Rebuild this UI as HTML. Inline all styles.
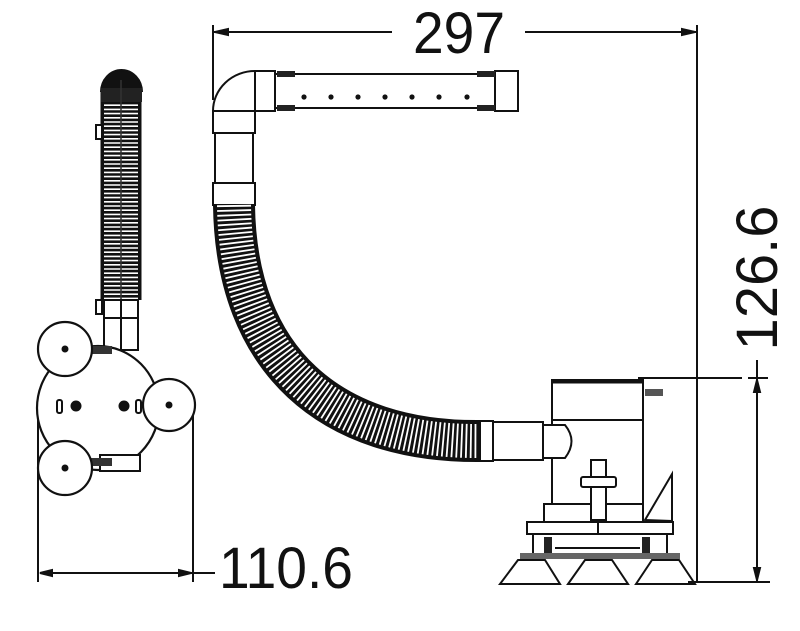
<!DOCTYPE html>
<html><head><meta charset="utf-8"><style>
html,body{margin:0;padding:0;background:#fff;}
svg{display:block}
text{font-family:"Liberation Sans",sans-serif;fill:#111}
</style></head><body>
<svg width="800" height="631" viewBox="0 0 800 631" xmlns="http://www.w3.org/2000/svg">
<g fill="none" stroke="#111" stroke-width="2">
<path d="M121,90 L121,300" stroke="#111" stroke-width="41" stroke-linecap="butt"/>
<path d="M121,75 L121,300" stroke="#fff" stroke-width="34" stroke-dasharray="1.6 2.6"/>
<path d="M101,92 A20.5,22 0 0 1 142,92" fill="#111" stroke="#111"/>
<rect x="101" y="88" width="41" height="14" fill="#222" stroke="none"/>
<line x1="121" y1="80" x2="121" y2="300" stroke="#333" stroke-width="1.5"/>
<rect x="96" y="125" width="6" height="14" fill="#fff"/>
<rect x="96" y="300" width="6" height="14" fill="#fff"/>
<rect x="104" y="300" width="34" height="50" fill="#fff"/>
<line x1="121" y1="300" x2="121" y2="350"/>
<line x1="104" y1="318" x2="138" y2="318"/>
<ellipse cx="98" cy="408" rx="61" ry="62" fill="#fff" stroke-width="2.2"/>
<rect x="100" y="455" width="40" height="16" fill="#fff"/>
<rect x="90" y="346" width="22" height="8" fill="#333" stroke="none"/>
<rect x="90" y="458" width="22" height="8" fill="#333" stroke="none"/>
<circle cx="65" cy="349" r="27" fill="#fff" stroke-width="2.2"/>
<circle cx="169" cy="405" r="26" fill="#fff" stroke-width="2.2"/>
<circle cx="65" cy="468" r="27" fill="#fff" stroke-width="2.2"/>
<circle cx="65" cy="349" r="2.5" fill="#111"/>
<circle cx="169" cy="405" r="2.5" fill="#111"/>
<circle cx="65" cy="468" r="2.5" fill="#111"/>
<rect x="57" y="400" width="5" height="13" rx="2"/>
<circle cx="76" cy="406" r="4.5" fill="#111"/>
<circle cx="124" cy="406" r="4.5" fill="#111"/>
<rect x="136" y="400" width="5" height="13" rx="2"/>
<line x1="38" y1="420" x2="38" y2="582"/>
<line x1="193" y1="415" x2="193" y2="582"/>
<line x1="40" y1="573" x2="215" y2="573"/>
<path d="M40,573 L52,570 L52,576 Z" fill="#111"/>
<path d="M191,573 L179,570 L179,576 Z" fill="#111"/>

<line x1="213" y1="25" x2="213" y2="100"/>
<line x1="213" y1="32" x2="392" y2="32"/>
<line x1="525" y1="32" x2="697" y2="32"/>
<path d="M215,32 L228,29 L228,35 Z" fill="#111"/>
<path d="M695,32 L682,29 L682,35 Z" fill="#111"/>
<path d="M213,111 A42,40 0 0 1 255,71 L275,71 L275,111 L213,111 Z" fill="#fff"/>
<line x1="255" y1="71" x2="255" y2="111"/>
<rect x="213" y="111" width="42" height="22" fill="#fff"/>
<rect x="215" y="133" width="38" height="50" fill="#fff"/>
<rect x="213" y="183" width="42" height="22" fill="#fff"/>
<rect x="275" y="74" width="220" height="34" fill="#fff"/>
<rect x="495" y="71" width="23" height="40" fill="#fff"/>
<rect x="277" y="71" width="18" height="6" fill="#222" stroke="none"/>
<rect x="277" y="105" width="18" height="6" fill="#222" stroke="none"/>
<rect x="477" y="71" width="18" height="6" fill="#222" stroke="none"/>
<rect x="477" y="105" width="18" height="6" fill="#222" stroke="none"/>
<g fill="#111" stroke="none">
<circle cx="304" cy="97" r="2.6"/><circle cx="331" cy="97" r="2.6"/><circle cx="358" cy="97" r="2.6"/>
<circle cx="385" cy="97" r="2.6"/><circle cx="412" cy="97" r="2.6"/><circle cx="439" cy="97" r="2.6"/><circle cx="467" cy="97" r="2.6"/>
</g>
<path d="M234,205 C236,360 330,443 482,441" stroke="#111" stroke-width="42"/>
<path d="M234,205 C236,360 330,443 482,441" stroke="#fff" stroke-width="34" stroke-dasharray="1.8 2.8"/>
<rect x="480" y="421" width="13" height="40" fill="#fff"/>
<rect x="493" y="422" width="50" height="38" fill="#fff"/>
<rect x="552" y="380" width="91" height="124" fill="#fff"/>
<line x1="552" y1="382" x2="643" y2="382" stroke-width="3"/>
<line x1="552" y1="420" x2="643" y2="420"/>
<rect x="645" y="389" width="18" height="7" fill="#555" stroke="none"/>
<path d="M543,425 L565,425 Q578,441 565,458 L543,458 Z" fill="#fff"/>
<rect x="544" y="504" width="99" height="18" fill="#fff"/>
<rect x="591" y="460" width="15" height="60" fill="#fff"/>
<rect x="581" y="477" width="35" height="10" rx="2" fill="#fff"/>
<path d="M645,520 L672,474 L672,521 Z" fill="#fff"/>
<rect x="527" y="522" width="146" height="12" fill="#fff"/>
<line x1="598" y1="522" x2="598" y2="534"/>
<rect x="533" y="534" width="134" height="22" fill="#fff"/>
<rect x="544" y="537" width="8" height="16" fill="#222" stroke="none"/>
<rect x="642" y="537" width="8" height="16" fill="#222" stroke="none"/>
<line x1="555" y1="548" x2="640" y2="548"/>
<rect x="520" y="553" width="160" height="6" fill="#666" stroke="none"/>
<path d="M518,560 L545,560 L560,584 L500,584 Z" fill="#fff"/>
<path d="M585,560 L612,560 L628,584 L568,584 Z" fill="#fff"/>
<path d="M652,560 L679,560 L695,584 L636,584 Z" fill="#fff"/>
<line x1="697" y1="25" x2="697" y2="583"/>
<line x1="638" y1="378" x2="742" y2="378"/>
<line x1="688" y1="582" x2="770" y2="582"/>
<line x1="757" y1="360" x2="757" y2="582"/>
<line x1="748" y1="378" x2="768" y2="378"/>
<path d="M757,380 L754,392 L760,392 Z" fill="#111"/>
<path d="M757,580 L754,568 L760,568 Z" fill="#111"/>
</g>
<text x="459" y="53" font-size="58" text-anchor="middle" textLength="92" lengthAdjust="spacingAndGlyphs">297</text>
<text x="286" y="588" font-size="58" text-anchor="middle" textLength="134" lengthAdjust="spacingAndGlyphs">110.6</text>
<text transform="translate(777,278) rotate(-90)" font-size="58" text-anchor="middle" textLength="145" lengthAdjust="spacingAndGlyphs">126.6</text>
</svg>
</body></html>
